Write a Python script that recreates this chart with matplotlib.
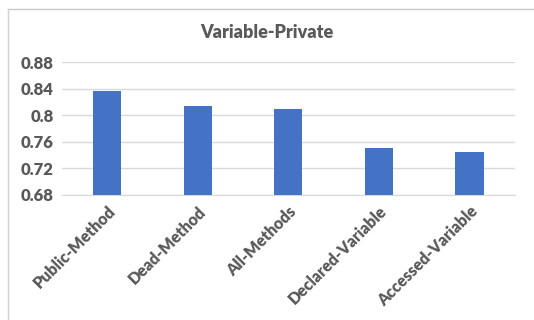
import matplotlib.pyplot as plt
from matplotlib.lines import Line2D

categories = ["Public-Method", "Dead-Method", "All-Methods", "Declared-Variable", "Accessed-Variable"]
values = [0.837, 0.814, 0.809, 0.750, 0.744]
yticks = [0.68, 0.72, 0.76, 0.8, 0.84, 0.88]
ytick_labels = ["0.68", "0.72", "0.76", "0.8", "0.84", "0.88"]

text_color = "#595959"
plt.rcParams['font.family'] = ['Lato', 'DejaVu Sans']

fig = plt.figure(figsize=(5.34, 3.2), dpi=100)
ax = fig.add_axes([0.116, 0.391, 0.848, 0.415])

x = range(len(categories))
ax.bar(x, values, width=0.31, color="#4472C4", zorder=3)

ax.set_ylim(0.68, 0.88)
ax.set_xlim(-0.5, len(categories) - 0.5)
ax.set_yticks(yticks)
ax.set_yticklabels(ytick_labels, fontsize=12, fontweight='heavy', color=text_color)
ax.set_xticks(list(x))
ax.set_xticklabels(categories, rotation=45, ha='right', rotation_mode='anchor',
                   fontsize=11.5, fontweight='heavy', color=text_color)
ax.tick_params(length=0, pad=6)
ax.grid(axis='y', color="#d9d9d9", linewidth=1, zorder=0)
for s in ['top', 'right', 'left']:
    ax.spines[s].set_visible(False)
ax.spines['bottom'].set_color("#d9d9d9")

fig.text(0.5, 0.897, "Variable-Private", ha='center', va='center',
         fontsize=13, fontweight='heavy', color=text_color)

# chart frame (top and left edges)
fig.add_artist(Line2D([8 / 534, 1], [1 - 9 / 320, 1 - 9 / 320], color="#c8c8c8", linewidth=1))
fig.add_artist(Line2D([8 / 534, 8 / 534], [0, 1 - 9 / 320], color="#d0d0d0", linewidth=1))

fig.savefig("out.png", dpi=100)
